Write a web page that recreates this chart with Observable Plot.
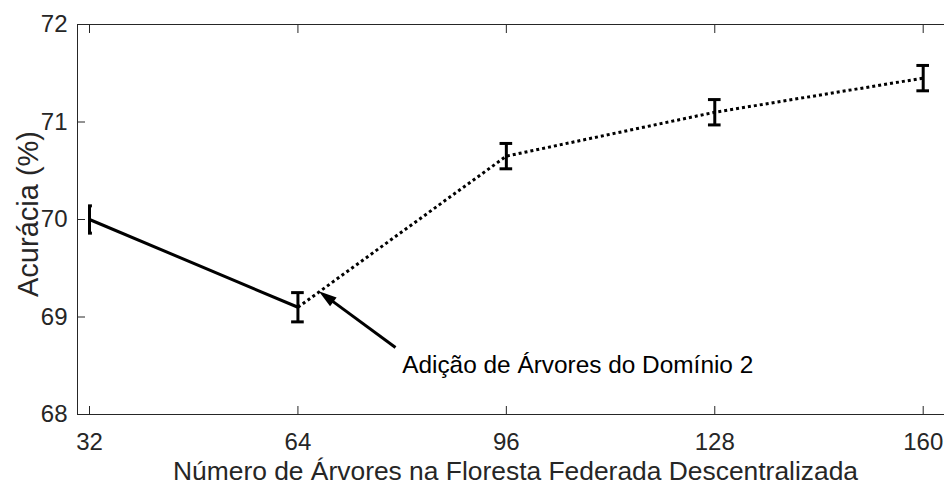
<!DOCTYPE html>
<html><head><meta charset="utf-8">
<script src="https://cdn.jsdelivr.net/npm/d3@7"></script>
<script src="https://cdn.jsdelivr.net/npm/@observablehq/plot@0.6"></script>
<style>body{margin:0;background:#fff} svg{display:block}</style>
</head><body><div id="chart"></div>
<script>
// ---- data ----
const trees = [32, 64, 96, 128, 160];
const accuracy = [70.00, 69.10, 70.65, 71.10, 71.45];
const errBar = [0.14, 0.15, 0.13, 0.13, 0.13];
const xTicks = [32, 64, 96, 128, 160];
const yTicks = [68, 69, 70, 71, 72];
const solidIdx = [0, 1];
const dottedIdx = [1, 2, 3, 4];
const xLabel = "Número de Árvores na Floresta Federada Descentralizada";
const yLabel = "Acurácia (%)";
const annotationText = ["Adição de Árvores do Domínio 2"];
const annotationTextX = [80.0];
const annotationTextY = [68.43];
const arrowTail = [78.98, 68.687];
const arrowTip = [67.21, 69.265];

// ---- layout / style ----
const W = 944, H = 484;
const mL = 77, mR = 0, mT = 24, mB = 70;
const xDomain = [30.157, 163.27];
const yDomain = [68, 72];
const capHalf = 0.97;          // cap half width (x units)
const firstCap = [0.15, 0.45]; // first cap is clipped on its left
const axisColor = "#262626";
const font = "'Liberation Sans', Arial, sans-serif";

const pts = trees.map((t, i) => ({x: t, y: accuracy[i], lo: accuracy[i] - errBar[i], hi: accuracy[i] + errBar[i], i}));
const caps = pts.flatMap(d => {
  const a = d.i === 0 ? firstCap[0] : capHalf, b = d.i === 0 ? firstCap[1] : capHalf;
  return [{y: d.lo, x1: d.x - a, x2: d.x + b}, {y: d.hi, x1: d.x - a, x2: d.x + b}];
});

// arrow geometry in pixel space
const xs = d3.scaleLinear(xDomain, [mL, W - mR]);
const ys = d3.scaleLinear(yDomain, [H - mB, mT]);
const pdx = xs(arrowTip[0]) - xs(arrowTail[0]);
const pdy = ys(arrowTip[1]) - ys(arrowTail[1]);
const plen = Math.hypot(pdx, pdy);
const headL = 18, headW = 11;
const angle = Math.atan2(pdx, -pdy) * 180 / Math.PI;
const baseX = xs.invert(xs(arrowTip[0]) - pdx / plen * (headL - 2));
const baseY = ys.invert(ys(arrowTip[1]) - pdy / plen * (headL - 2));
const headSymbol = {draw(ctx) { ctx.moveTo(0, 0); ctx.lineTo(-headW / 2, headL); ctx.lineTo(headW / 2, headL); ctx.closePath(); }};

const chart = Plot.plot({
  width: W, height: H,
  marginLeft: mL, marginRight: mR, marginTop: mT, marginBottom: mB,
  style: {fontFamily: font, color: axisColor, background: "white"},
  x: {domain: xDomain},
  y: {domain: yDomain},
  marks: [
    // box (top, bottom, left)
    Plot.ruleY(yDomain, {stroke: axisColor, strokeWidth: 1}),
    Plot.ruleX([xDomain[0]], {stroke: axisColor, strokeWidth: 1}),
    // inward ticks
    Plot.axisX({anchor: "bottom", ticks: xTicks, tickSize: -8, tickFormat: () => "", label: null, strokeWidth: 1}),
    Plot.axisX({anchor: "top", ticks: xTicks, tickSize: -8, tickFormat: () => "", label: null, strokeWidth: 1}),
    Plot.axisY({anchor: "left", ticks: yTicks, tickSize: -8, tickFormat: () => "", label: null, strokeWidth: 1}),
    // tick labels
    Plot.axisX({anchor: "bottom", ticks: xTicks, tickSize: 0, tickPadding: 18, fontSize: 24, label: null, fill: axisColor, tickFormat: d => String(d)}),
    Plot.axisY({anchor: "left", ticks: yTicks, tickSize: 0, tickPadding: 10, fontSize: 24, label: null, fill: axisColor, tickFormat: d => String(d)}),
    // axis titles
    Plot.text([xLabel], {frameAnchor: "bottom", dy: 65, dx: 4.5, textAnchor: "middle", lineAnchor: "bottom", fontSize: 26.4, fill: axisColor}),
    Plot.text([yLabel], {frameAnchor: "left", rotate: -90, dx: -40, dy: -5.5, textAnchor: "middle", lineAnchor: "bottom", fontSize: 29, fill: axisColor}),
    // lines
    Plot.line(solidIdx.map(i => pts[i]), {x: "x", y: "y", stroke: "black", strokeWidth: 3, strokeLinecap: "butt"}),
    Plot.line(dottedIdx.map(i => pts[i]), {x: "x", y: "y", stroke: "black", strokeWidth: 3, strokeLinecap: "butt", strokeDasharray: "3 3"}),
    // error bars
    Plot.ruleX(pts, {x: "x", y1: "lo", y2: "hi", stroke: "black", strokeWidth: 3}),
    Plot.ruleY(caps, {y: "y", x1: "x1", x2: "x2", stroke: "black", strokeWidth: 3}),
    // annotation arrow
    Plot.link([0], {x1: arrowTail[0], y1: arrowTail[1], x2: baseX, y2: baseY, stroke: "black", strokeWidth: 3}),
    Plot.dot([0], {x: arrowTip[0], y: arrowTip[1], symbol: headSymbol, rotate: angle, fill: "black", stroke: "none"}),
    Plot.text(annotationText, {x: annotationTextX, y: annotationTextY, textAnchor: "start", lineAnchor: "bottom", fontSize: 24.4, fill: "black"})
  ]
});
document.getElementById("chart").append(chart);
</script>
</body></html>
